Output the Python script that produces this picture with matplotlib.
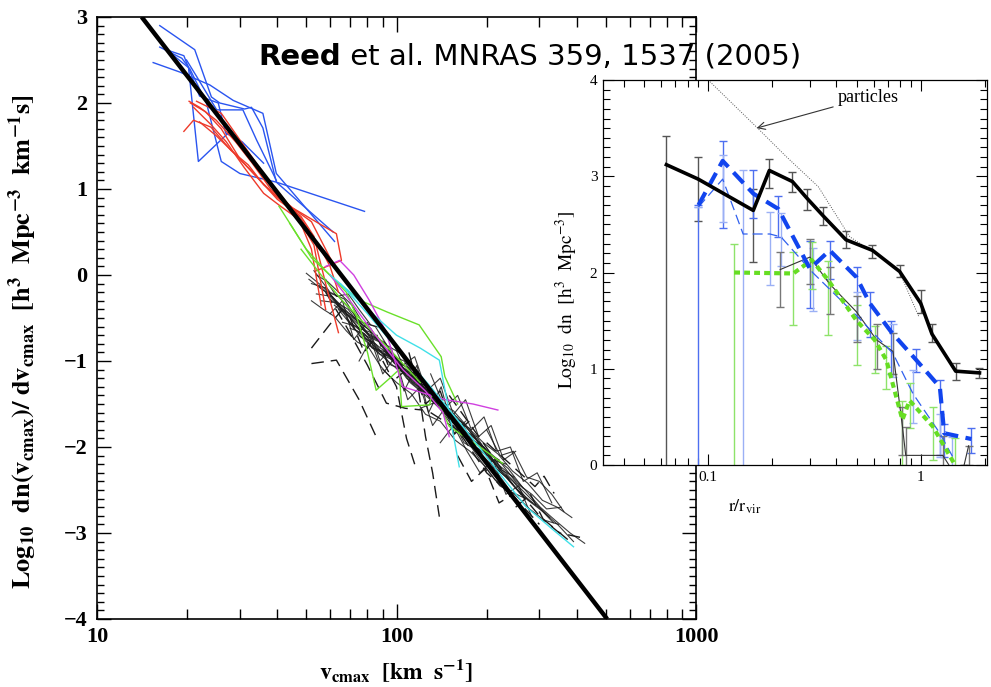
import matplotlib
matplotlib.use("Agg")
import matplotlib.pyplot as plt

plt.rcParams['font.family'] = 'serif'
plt.rcParams['font.serif'] = ['Liberation Serif', 'DejaVu Serif']
plt.rcParams['mathtext.fontset'] = 'stix'

# ---------------- main panel data: v_cmax [km/s], log10 dn/dv ----------------
fit_v = [14.1, 505.0]
fit_y = [3.0, -4.0]

blue_v = [[16.2, 21.2, 24.1, 25.7, 31.1, 32.8, 35.8, 39.7, 78.2],
          [15.4, 18.9, 23.8, 28.5, 35.8, 39.7, 62.1],
          [16.2, 19.2, 20.2, 21.8, 27.8],
          [17.9, 20.4, 23.2, 26.0, 30.0, 39.7, 61.4],
          [19.9, 21.5, 25.1, 30.7, 34.1, 39.7],
          [17.0, 19.5, 22.0, 25.4, 26.9, 30.5, 36.0]]
blue_y = [[2.90, 2.62, 2.07, 2.00, 1.93, 1.95, 1.71, 1.08, 0.74],
          [2.47, 2.36, 2.21, 2.03, 1.88, 1.18, 0.39],
          [2.65, 2.52, 2.42, 1.32, 1.67],
          [2.56, 2.40, 2.00, 1.32, 1.18, 1.08, 0.50],
          [2.50, 2.31, 1.92, 1.92, 1.57, 1.10],
          [2.62, 2.55, 2.08, 2.00, 1.65, 1.55, 1.30]]

red_v = [[20.3, 22.0, 25.0, 29.0, 33.0, 38.0, 45.0, 55.0, 63.0, 65.5, 54.0],
         [19.5, 21.0, 24.0, 28.0, 32.0, 36.0, 42.0, 48.0, 53.0, 58.0, 64.0],
         [20.5, 23.0, 26.0, 30.0, 35.0, 40.0, 46.0, 52.0, 56.0],
         [21.0, 24.0, 27.0, 31.0, 36.0, 41.0, 47.0, 53.0, 58.0],
         [22.0, 25.0, 29.0, 34.0, 40.0, 47.0, 55.0, 60.0, 64.0],
         [21.5, 26.0, 31.0, 37.0, 44.0, 52.0, 60.0, 65.0]]
red_y = [[2.02, 1.95, 1.80, 1.55, 1.30, 1.00, 0.78, 0.60, 0.48, 0.17, 0.05],
         [1.67, 1.80, 1.72, 1.45, 1.28, 1.05, 0.85, 0.68, 0.45, -0.10, -0.67],
         [2.00, 1.90, 1.70, 1.35, 1.10, 0.90, 0.75, 0.30, -0.35],
         [1.95, 1.75, 1.55, 1.25, 0.95, 0.80, 0.65, 0.35, -0.40],
         [1.78, 1.62, 1.40, 1.15, 0.88, 0.70, 0.35, 0.10, -0.20],
         [2.02, 1.88, 1.50, 1.12, 0.80, 0.62, 0.20, 0.00]]

green_v = [[40.5, 45.0, 52.0, 62.0, 75.0, 93.0, 119.0, 141.0, 145.0, 160.0],
           [44.0, 50.0, 58.0, 68.0, 73.5, 80.0, 85.5, 95.0, 102.0, 104.0, 129.0, 132.0, 150.0, 190.0, 226.0],
           [48.0, 56.0, 66.0, 80.0, 100.0, 120.0]]
green_y = [[0.80, 0.55, 0.20, -0.05, -0.29, -0.43, -0.58, -0.95, -1.18, -1.50],
           [0.60, 0.30, 0.05, -0.20, -0.48, -0.90, -1.34, -1.20, -1.10, -1.53, -1.51, -1.34, -1.76, -2.00, -2.19],
           [0.30, 0.00, -0.30, -0.60, -0.95, -1.25]]

magenta_v = [[58.0, 64.6, 72.0, 81.0, 92.0, 105.0, 125.0, 146.0, 180.0, 218.0],
             [60.0, 70.0, 85.0, 105.0, 125.0, 143.0, 150.0]]
magenta_y = [[0.10, 0.17, 0.00, -0.29, -0.65, -1.30, -1.38, -1.45, -1.50, -1.57],
             [0.00, -0.30, -0.70, -1.10, -1.35, -1.60, -1.88]]

cyan_v = [[60.0, 70.0, 85.0, 100.0, 120.0, 139.0, 150.0, 162.0],
          [65.0, 80.0, 100.0, 130.0, 170.0, 220.0, 270.0, 330.0, 390.0]]
cyan_y = [[0.00, -0.20, -0.48, -0.70, -0.85, -0.99, -1.60, -2.23],
          [-0.10, -0.45, -0.85, -1.30, -1.80, -2.30, -2.69, -2.95, -3.16]]

black_v = [[50, 56, 63, 71, 80, 90, 100, 112, 126, 141, 158, 178, 200],
           [51, 57, 64, 72, 81, 91, 102, 115, 130, 146, 164, 184, 207, 232, 260],
           [52, 58, 65, 73, 82, 92, 103, 116, 130, 146, 164, 184, 206, 231, 259, 290, 325],
           [53, 60, 67, 75, 84, 94, 106, 119, 133, 150, 168, 188, 211],
           [54, 61, 68, 76, 85, 96, 108, 121, 136, 152, 171, 192, 215, 241, 270],
           [55, 62, 69, 78, 87, 98, 110, 123, 138, 155, 174, 195, 219, 245, 275, 308, 345, 390],
           [56, 63, 70, 79, 88, 99, 111, 125, 140, 157, 176, 197, 221],
           [58, 65, 73, 82, 92, 103, 116, 130, 146, 164, 184, 206],
           [60, 67, 75, 84, 94, 106, 119, 133, 150, 168, 188, 211, 237, 266, 298, 334],
           [62, 70, 78, 88, 98, 110, 124, 139, 156, 175, 196, 220, 247],
           [64, 72, 80, 90, 101, 113, 127, 143, 160, 180, 202, 226, 254, 285],
           [66, 74, 83, 93, 104, 117, 131, 147, 165, 185, 208, 233],
           [68, 76, 85, 96, 107, 120, 135, 151, 170, 190, 214, 240, 269, 302, 338, 380, 425],
           [70, 78, 88, 99, 111, 124, 139, 156, 175, 196, 220],
           [75, 84, 94, 106, 119, 133, 149, 167, 188, 210, 236, 265],
           [80, 90, 101, 113, 127, 142, 159, 179, 200, 225, 252, 283, 317, 355],
           [52, 57, 62, 68, 74, 81, 88, 96],
           [54, 59, 65, 71, 77, 85, 93, 102, 112],
           [90, 100, 112, 125, 140, 157, 176, 197, 221, 248, 278, 311, 348],
           [110, 123, 138, 155, 174, 195, 218, 244, 274, 307, 344, 385],
           [120, 135, 151, 170, 190, 213, 239],
           [58, 63, 69, 75, 82, 90],
           [60, 66, 72, 80, 88, 96, 106, 117, 128, 141, 155, 170],
           [95, 105, 115, 126, 140, 155, 170, 188, 207, 228, 250],
           [130, 145, 160, 178, 196, 216, 240, 265, 295, 330],
           [75, 82, 90, 99, 109, 120, 132, 145],
           [140, 155, 172, 190, 210, 232, 256, 282],
           [200, 222, 246, 272, 300, 330, 362]]
black_y = [[0.02, -0.12, -0.30, -0.48, -0.62, -0.82, -0.98, -1.12, -1.35, -1.55, -1.72, -1.98, -2.10],
           [-0.05, -0.18, -0.25, -0.45, -0.70, -0.78, -1.02, -1.25, -1.30, -1.62, -1.80, -2.02, -2.20, -2.35, -2.55],
           [-0.10, -0.15, -0.38, -0.50, -0.62, -0.90, -1.05, -1.18, -1.42, -1.50, -1.78, -1.90, -2.15, -2.30, -2.48, -2.65, -2.82],
           [0.05, -0.20, -0.28, -0.55, -0.68, -0.85, -1.10, -1.22, -1.48, -1.60, -1.95, -2.05, -2.30],
           [-0.22, -0.25, -0.45, -0.60, -0.80, -0.95, -1.20, -1.35, -1.45, -1.70, -1.85, -2.10, -2.28, -2.52, -2.60],
           [-0.12, -0.30, -0.40, -0.65, -0.75, -1.00, -1.08, -1.30, -1.52, -1.65, -1.88, -2.00, -2.25, -2.40, -2.62, -2.75, -2.90, -3.10],
           [-0.30, -0.32, -0.55, -0.70, -0.88, -0.98, -1.25, -1.40, -1.55, -1.75, -1.90, -2.18, -2.28],
           [-0.15, -0.40, -0.52, -0.72, -0.80, -1.10, -1.15, -1.45, -1.62, -1.70, -2.00, -2.12],
           [-0.28, -0.42, -0.62, -0.68, -0.92, -1.00, -1.28, -1.38, -1.68, -1.80, -1.98, -2.22, -2.38, -2.58, -2.70, -2.88],
           [-0.35, -0.50, -0.70, -0.78, -1.02, -1.15, -1.32, -1.50, -1.62, -1.90, -2.00, -2.25, -2.35],
           [-0.40, -0.62, -0.75, -0.92, -0.98, -1.25, -1.38, -1.58, -1.70, -1.98, -2.10, -2.30, -2.50, -2.65],
           [-0.55, -0.60, -0.85, -0.90, -1.12, -1.20, -1.45, -1.52, -1.80, -1.88, -2.15, -2.20],
           [-0.50, -0.72, -0.80, -1.05, -1.10, -1.32, -1.48, -1.60, -1.82, -1.95, -2.18, -2.32, -2.50, -2.70, -2.85, -3.00, -3.12],
           [-0.62, -0.68, -0.92, -1.00, -1.22, -1.35, -1.45, -1.70, -1.78, -2.05, -2.15],
           [-0.70, -0.85, -0.95, -1.15, -1.28, -1.40, -1.62, -1.72, -1.95, -2.10, -2.25, -2.48],
           [-0.80, -0.95, -1.10, -1.18, -1.40, -1.55, -1.65, -1.85, -2.05, -2.20, -2.42, -2.55, -2.72, -2.70],
           [-0.30, -0.40, -0.48, -0.65, -0.78, -0.85, -1.05, -1.20],
           [0.00, -0.08, -0.22, -0.35, -0.55, -0.60, -0.82, -0.90, -1.10],
           [-1.10, -1.25, -1.38, -1.62, -1.70, -1.92, -2.05, -2.22, -2.45, -2.55, -2.72, -2.85, -2.90],
           [-1.15, -1.30, -1.48, -1.58, -1.78, -1.95, -2.08, -2.28, -2.42, -2.62, -2.70, -2.82],
           [-1.55, -1.48, -1.72, -1.90, -2.15, -2.38, -2.50],
           [-0.05, -0.25, -0.22, -0.40, -0.58, -0.62],
           [-0.45, -0.30, -0.75, -0.55, -1.00, -0.85, -1.35, -1.05, -1.60, -1.30, -1.85, -1.70],
           [-0.70, -1.05, -0.95, -1.35, -1.20, -1.62, -1.45, -1.88, -1.75, -2.15, -2.05],
           [-1.15, -1.55, -1.40, -1.80, -1.65, -2.05, -2.00, -2.40, -2.30, -2.65],
           [-1.00, -0.75, -1.15, -0.95, -1.45, -1.30, -1.75, -1.55],
           [-1.95, -1.75, -2.05, -2.30, -2.15, -2.55, -2.45, -2.80],
           [-1.80, -2.10, -2.05, -2.35, -2.40, -2.55, -2.75]]

dash_v = [[52, 63, 75, 85.5],
          [52, 61, 66],
          [58, 68, 80, 92.5, 107, 122],
          [110, 118, 125, 132, 139],
          [200, 240, 290, 311, 336],
          [150, 190, 240, 300, 380],
          [90, 100, 108, 115],
          [130, 160, 200, 250, 300],
          [100, 112, 125, 140, 156, 175],
          [160, 178, 198, 220, 245],
          [70, 78, 86, 95],
          [250, 280, 310, 350, 410]]
dash_y = [[-1.03, -0.99, -1.45, -1.88],
          [-0.85, -0.54, -0.40],
          [-0.20, -0.60, -1.05, -1.49, -1.55, -1.57],
          [-0.90, -1.30, -1.88, -2.30, -2.81],
          [-1.95, -2.20, -2.46, -2.34, -2.54],
          [-1.40, -1.90, -2.40, -2.80, -3.10],
          [-1.00, -1.30, -1.90, -2.20],
          [-1.60, -1.80, -2.30, -2.60, -2.90],
          [-1.20, -1.05, -1.50, -1.35, -1.85, -1.70],
          [-2.10, -2.40, -2.25, -2.65, -2.55],
          [-0.50, -0.90, -0.70, -1.10],
          [-2.70, -2.55, -2.85, -3.00, -3.05]]

# ---------------- inset data: r/r_vir, log10 dn ----------------
part_r = [0.100, 0.169, 0.234, 0.330, 0.464, 0.593, 0.790, 0.980]
part_y = [4.00, 3.51, 3.20, 2.89, 2.37, 2.22, 2.02, 1.54]

k_r = [0.0636, 0.0898, 0.163, 0.194, 0.249, 0.292, 0.347, 0.445, 0.593, 0.796, 1.00, 1.13, 1.46, 1.89]
k_y = [3.12, 2.97, 2.645, 3.06, 2.945, 2.77, 2.59, 2.34, 2.23, 2.01, 1.68, 1.36, 0.975, 0.957]
k_lo = [3.50, 0.44, 0.535, 0.18, 0.105, 0.12, 0.10, 0.09, 0.08, 0.06, 0.10, 0.08, 0.095, 0.057]
k_hi = [0.30, 0.23, 0.225, 0.12, 0.095, 0.10, 0.09, 0.09, 0.06, 0.07, 0.14, 0.11, 0.08, 0.05]

b_r = [0.090, 0.117, 0.163, 0.214, 0.301, 0.373, 0.499, 0.576, 0.728, 0.953, 1.23, 1.29, 1.73]
b_y = [2.70, 3.16, 2.82, 2.66, 2.04, 2.23, 1.95, 1.68, 1.38, 1.09, 0.81, 0.33, 0.27]
b_lo = [3.00, 0.70, 0.25, 0.29, 0.41, 0.30, 0.41, 0.35, 0.43, 0.12, 0.71, 0.25, 0.15]
b_hi = [0.00, 0.21, 0.25, 0.14, 0.29, 0.10, 0.11, 0.12, 0.12, 0.12, 0.07, 0.10, 0.11]

t_r = [0.090, 0.117, 0.146, 0.195, 0.220, 0.310, 0.500, 0.740, 0.920, 1.230, 1.410]
t_y = [2.68, 2.97, 2.40, 2.40, 2.37, 2.00, 1.55, 1.16, 0.74, 0.33, 0.09]
t_lo = [0.00, 0.45, 3.00, 0.53, 0.30, 0.40, 0.25, 0.25, 0.30, 0.25, 0.20]
t_hi = [0.00, 0.25, 0.67, 0.23, 0.25, 0.25, 0.25, 0.30, 0.25, 0.20, 0.20]

g_r = [0.1325, 0.2516, 0.307, 0.367, 0.499, 0.607, 0.689, 0.820, 0.886, 1.14, 1.45]
g_y = [2.00, 1.99, 2.13, 1.92, 1.50, 1.30, 1.09, 0.47, 0.67, 0.40, 0.00]
g_lo = [3.00, 0.54, 0.30, 0.57, 0.46, 0.34, 0.30, 0.47, 0.29, 0.35, 0.10]
g_hi = [0.30, 0.22, 0.19, 0.20, 0.16, 0.14, 0.15, 0.19, 0.18, 0.20, 0.28]

s_r = [0.218, 0.301, 0.373, 0.499, 0.620, 0.740, 0.820, 0.850, 1.270, 1.450, 1.600, 1.680]
s_y = [2.03, 2.16, 1.88, 1.59, 1.30, 1.18, 0.40, 0.10, 0.10, -0.10, 0.00, 0.20]
s_lo = [0.39, 0.28, 0.31, 0.31, 0.30, 0.23, 0.30, 0.30, 0.30, 0.00, 0.00, 0.20]
s_hi = [0.18, 0.19, 0.18, 0.17, 0.17, 0.19, 0.20, 0.30, 0.20, 0.00, 0.00, 0.00]

W, H = 991, 687
fig = plt.figure(figsize=(W / 100, H / 100), dpi=100)

# ---------------- main panel ----------------
ax = fig.add_axes([97 / W, 1 - 619 / H, 599 / W, 602 / H])
for vv, yy in zip(black_v, black_y):
    ax.plot(vv, yy, color='#1a1a1a', lw=0.8, alpha=0.85, zorder=2)
for vv, yy in zip(dash_v, dash_y):
    ax.plot(vv, yy, color='#1a1a1a', lw=1.0, dashes=(9, 5), zorder=2)
for vv, yy in zip(blue_v, blue_y):
    ax.plot(vv, yy, color='#2a55f0', lw=1.0, zorder=3)
for vv, yy in zip(red_v, red_y):
    ax.plot(vv, yy, color='#ee3a2a', lw=1.0, zorder=3)
for vv, yy in zip(green_v, green_y):
    ax.plot(vv, yy, color='#6ae02a', lw=1.0, zorder=3)
for vv, yy in zip(magenta_v, magenta_y):
    ax.plot(vv, yy, color='#d040e0', lw=1.0, zorder=3)
for vv, yy in zip(cyan_v, cyan_y):
    ax.plot(vv, yy, color='#40e0e8', lw=1.0, zorder=3)
ax.plot(fit_v, fit_y, color='black', lw=3.2, zorder=4, solid_capstyle='butt')

ax.set_xscale('log')
ax.set_xlim(10, 1000)
ax.set_ylim(-4, 3)
ax.set_xticks([10, 100, 1000], ['10', '100', '1000'], fontsize=16, fontweight='bold')
ax.set_xticks([20, 30, 40, 50, 60, 70, 80, 90, 200, 300, 400, 500, 600, 700, 800, 900],
              minor=True)
ax.set_xticklabels([], minor=True)
ax.set_yticks(range(-4, 4), ['\u22124', '\u22123', '\u22122', '\u22121', '0', '1', '2', '3'],
              fontsize=16, fontweight='bold')
ax.set_yticks([i / 10 for i in range(-40, 31)], minor=True)
ax.tick_params(which='both', direction='in', top=True, right=True, width=1.0)
ax.tick_params(axis='x', which='major', length=11, pad=6)
ax.tick_params(axis='x', which='minor', length=7)
ax.tick_params(axis='y', which='major', length=10, pad=7)
ax.tick_params(axis='y', which='minor', length=5)
for sp in ax.spines.values():
    sp.set_linewidth(1.2)
ax.set_xlabel(r'$\mathbf{v_{cmax}\ \ [km\ \ s^{-1}]}$', fontsize=17)
ax.xaxis.set_label_coords(0.5, -0.065)
ax.set_ylabel(r'$\mathbf{Log_{10}\ \ dn(v_{cmax})/\ dv_{cmax}\ \ [h^{3}\ \ Mpc^{-3}\ \ km^{-1}s]}$',
              fontsize=19)
ax.yaxis.set_label_coords(-0.097, 0.46)

# ---------------- inset ----------------
ai = fig.add_axes([603 / W, 1 - 465 / H, 384 / W, 385 / H], zorder=5)
ai.set_facecolor('white')
ai.plot(part_r, part_y, color='#555555', lw=0.7, dashes=(1, 1.5), zorder=2)
ai.errorbar(k_r, k_y, yerr=[k_lo, k_hi], fmt='none', ecolor='#555555', elinewidth=1.0,
            capsize=3, capthick=1.0, zorder=2)
ai.errorbar(b_r, b_y, yerr=[b_lo, b_hi], fmt='none', ecolor='#4d6ff0', elinewidth=1.0,
            capsize=3, capthick=1.0, zorder=2)
ai.errorbar(t_r, t_y, yerr=[t_lo, t_hi], fmt='none', ecolor='#9bb0f5', elinewidth=1.0,
            capsize=3, capthick=1.0, zorder=2)
ai.errorbar(g_r, g_y, yerr=[g_lo, g_hi], fmt='none', ecolor='#8ee36a', elinewidth=1.0,
            capsize=3, capthick=1.0, zorder=2)
ai.errorbar(s_r, s_y, yerr=[s_lo, s_hi], fmt='none', ecolor='#777777', elinewidth=1.0,
            capsize=3, capthick=1.0, zorder=2)
ai.plot(s_r, s_y, color='#333333', lw=0.8, zorder=3)
ai.plot(t_r, t_y, color='#3060ee', lw=0.9, dashes=(8, 4), zorder=3)
ai.plot(g_r, g_y, color='#66dd22', lw=3.0, dashes=(1.4, 1.0), zorder=4)
ai.plot(b_r, b_y, color='#1144ee', lw=3.0, dashes=(3.5, 1.8), zorder=4)
ai.plot(k_r, k_y, color='black', lw=2.6, zorder=5)
ai.annotate('particles', xy=(0.169, 3.50), xytext=(0.405, 3.82), fontsize=13,
            va='center', ha='left',
            arrowprops=dict(arrowstyle='->', color='#333333', lw=0.8, shrinkA=1, shrinkB=0))

ai.set_xscale('log')
ai.set_xlim(0.032, 2.05)
ai.set_ylim(0, 4)
ai.set_xticks([0.1, 1], ['0.1', '1'], fontsize=11)
ai.set_xticks([0.04, 0.05, 0.06, 0.07, 0.08, 0.09, 0.2, 0.3, 0.4, 0.5, 0.6, 0.7, 0.8, 0.9, 2],
              minor=True)
ai.set_xticklabels([], minor=True)
ai.set_yticks(range(0, 5), ['0', '1', '2', '3', '4'], fontsize=11)
ai.set_yticks([i / 10 for i in range(0, 41)], minor=True)
ai.tick_params(which='both', direction='in', top=True, right=True, width=0.8)
ai.tick_params(which='major', length=8, pad=4)
ai.tick_params(which='minor', length=5)
for sp in ai.spines.values():
    sp.set_linewidth(0.9)
ai.set_xlabel(r'$\mathrm{r/r_{vir}}$', fontsize=13)
ai.xaxis.set_label_coords(0.37, -0.085)
ai.set_ylabel(r'$\mathrm{Log_{10}\ \ dn\ \ [h^{3}\ \ Mpc^{-3}]}$', fontsize=14)
ai.yaxis.set_label_coords(-0.06, 0.43)

# ---------------- title ----------------
ty = 1 - 57 / H
reed = fig.text(258 / W, ty, 'Reed', fontsize=21, fontweight='bold', family='DejaVu Sans',
                va='center', ha='left', zorder=10)
fig.canvas.draw()
bb = reed.get_window_extent()
fig.text(bb.x1 / fig.bbox.width, ty, ' et al. MNRAS 359, 1537 (2005)', fontsize=21,
         family='DejaVu Sans', va='center', ha='left', zorder=10)

fig.savefig('out.png', dpi=100, facecolor='white')
